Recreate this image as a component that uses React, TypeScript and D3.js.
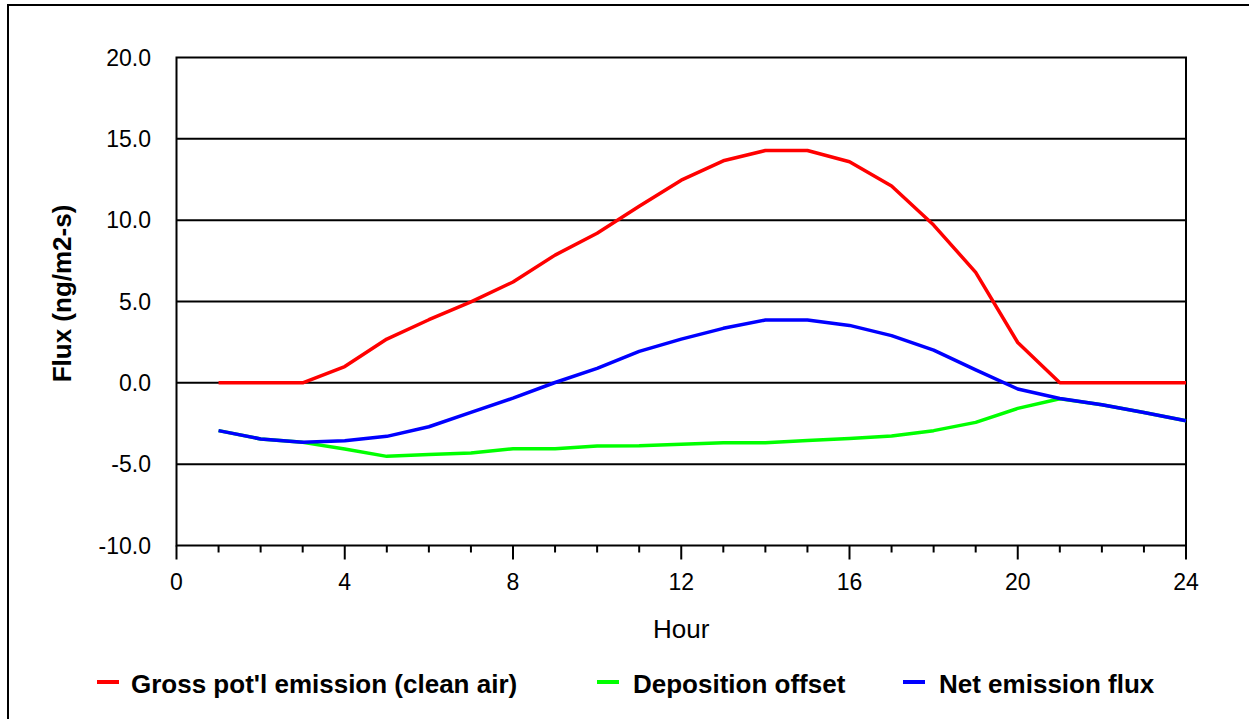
import React from "react";
import * as d3 from "d3";

const hours = [1, 2, 3, 4, 5, 6, 7, 8, 9, 10, 11, 12, 13, 14, 15, 16, 17, 18, 19, 20, 21, 22, 23, 24];
const grossEmission = [0, 0, 0, 1.0, 2.69, 3.88, 4.98, 6.2, 7.85, 9.2, 10.85, 12.46, 13.65, 14.28, 14.28, 13.59, 12.1, 9.7, 6.79, 2.48, 0, 0, 0, 0];
const depositionOffset = [-2.94, -3.45, -3.66, -4.07, -4.52, -4.4, -4.31, -4.05, -4.05, -3.88, -3.87, -3.78, -3.68, -3.68, -3.54, -3.42, -3.27, -2.94, -2.43, -1.57, -0.98, -1.35, -1.82, -2.33];
const netEmission = [-2.94, -3.45, -3.66, -3.56, -3.29, -2.7, -1.82, -0.94, 0.02, 0.89, 1.93, 2.69, 3.35, 3.86, 3.86, 3.53, 2.9, 2.01, 0.8, -0.38, -0.96, -1.35, -1.82, -2.33];
const yTicks = [-10, -5, 0, 5, 10, 15, 20];
const xMajorTicks = [0, 4, 8, 12, 16, 20, 24];
const xMinorTicks = d3.range(0, 25);
const seriesNames = ["Gross pot'l emission (clean air)", "Deposition offset", "Net emission flux"];
const seriesColors = ["#ff0000", "#00ff00", "#0000ff"];

const FONT = "'Liberation Sans', Arial, sans-serif";

export default function App() {
  const W = 1249;
  const H = 719;
  const left = 176.5, right = 1186, top = 57.5, bottom = 545.5;
  const x = d3.scaleLinear().domain([0, 24]).range([left, right]);
  const y = d3.scaleLinear().domain([-10, 20]).range([bottom, top]);

  const series = [grossEmission, depositionOffset, netEmission];
  const line = d3
    .line<number>()
    .x((_, i) => x(hours[i]))
    .y((d) => y(d));

  const legendItems = [
    { lx: 97, tx: 131 },
    { lx: 597, tx: 633 },
    { lx: 903, tx: 939 },
  ];

  return (
    <svg
      width={W}
      height={H}
      style={{ position: "absolute", left: 0, top: 0, background: "#fff" }}
      fontFamily={FONT}
    >
      <rect x={0} y={0} width={W} height={H} fill="#fff" />
      <rect x={8} y={5} width={W + 20} height={H + 20} fill="none" stroke="#000" strokeWidth={2} />

      {/* gridlines */}
      {yTicks
        .filter((t) => t !== -10 && t !== 20)
        .map((t) => (
          <line key={"g" + t} x1={left} x2={right} y1={y(t)} y2={y(t)} stroke="#000" strokeWidth={2} />
        ))}

      {/* plot frame */}
      <rect x={left} y={top} width={right - left} height={bottom - top} fill="none" stroke="#000" strokeWidth={2} />

      {/* y tick labels */}
      {yTicks.map((t) => (
        <text key={"yl" + t} x={151} y={y(t)} dy="0.35em" textAnchor="end" fontSize={23} fill="#000">
          {t.toFixed(1)}
        </text>
      ))}

      {/* x ticks */}
      {xMinorTicks.map((t) => (
        <line
          key={"xt" + t}
          x1={x(t)}
          x2={x(t)}
          y1={bottom}
          y2={bottom + (t % 4 === 0 ? 14 : 7)}
          stroke="#000"
          strokeWidth={2}
        />
      ))}
      {xMajorTicks.map((t) => (
        <text key={"xl" + t} x={x(t)} y={590} textAnchor="middle" fontSize={23} fill="#000">
          {t}
        </text>
      ))}

      {/* axis titles */}
      <text x={x(12)} y={638} textAnchor="middle" fontSize={26} fill="#000">
        Hour
      </text>
      <text
        transform={`translate(71, ${y(5) - 8}) rotate(-90)`}
        textAnchor="middle"
        fontSize={26}
        fontWeight="bold"
        fill="#000"
      >
        Flux (ng/m2-s)
      </text>

      {/* series lines */}
      {series.map((s, i) => (
        <path
          key={"s" + i}
          d={line(s) || ""}
          fill="none"
          stroke={seriesColors[i]}
          strokeWidth={3.5}
          strokeLinejoin="round"
        />
      ))}

      {/* legend */}
      {seriesNames.map((name, i) => (
        <g key={"lg" + i}>
          <line
            x1={legendItems[i].lx}
            x2={legendItems[i].lx + 22}
            y1={682}
            y2={682}
            stroke={seriesColors[i]}
            strokeWidth={4}
          />
          <text x={legendItems[i].tx} y={693} fontSize={26} fontWeight="bold" fill="#000">
            {name}
          </text>
        </g>
      ))}
    </svg>
  );
}
